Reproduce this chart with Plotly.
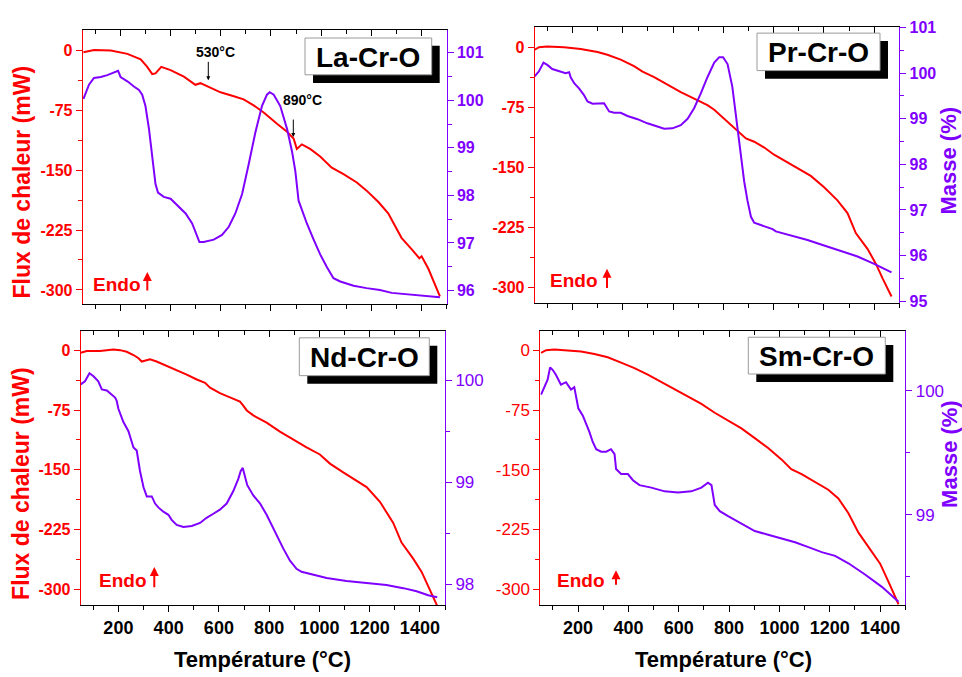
import plotly.graph_objects as go

W, H = 962, 677
RED = "#FF0000"
PUR = "#7F00FF"
FONT = "Arial, Liberation Sans, sans-serif"

# ---------------- data ----------------
la_T_dsc = [53, 95, 162, 228, 281, 307, 327, 340, 363, 400, 453, 499, 519, 546, 599, 652, 691, 731, 771, 824, 864, 890, 903, 923, 956, 996, 1042, 1089, 1142, 1181, 1228, 1267, 1320, 1360, 1391, 1400, 1427, 1473]
la_dsc = [-2.4, 0.4, -0.4, -4.5, -11.4, -20.8, -29.8, -29.0, -20.8, -24.9, -33.0, -43.2, -41.2, -45.2, -52.6, -57.5, -61.5, -68.9, -77.8, -92.0, -102.0, -110.5, -123.5, -117.8, -123.5, -132.9, -147.0, -155.0, -165.5, -175.7, -190.0, -204.0, -234.8, -249.0, -260.4, -258.0, -273.5, -308.0]
la_T_tg = [53, 75, 95, 122, 148, 181, 191, 201, 228, 254, 274, 287, 300, 314, 327, 340, 350, 373, 400, 426, 460, 486, 506, 515, 532, 572, 605, 632, 658, 685, 711, 738, 764, 784, 795, 811, 837, 864, 884, 897, 910, 923, 943, 970, 996, 1023, 1049, 1076, 1129, 1181, 1234, 1281, 1340, 1393, 1433, 1473]
la_tg = [100.03, 100.33, 100.47, 100.49, 100.53, 100.59, 100.62, 100.49, 100.40, 100.29, 100.22, 100.12, 99.88, 99.40, 98.78, 98.24, 98.06, 97.97, 97.93, 97.79, 97.62, 97.41, 97.14, 97.02, 97.02, 97.07, 97.17, 97.34, 97.62, 98.03, 98.65, 99.33, 99.88, 100.12, 100.17, 100.12, 99.88, 99.40, 98.92, 98.51, 97.89, 97.69, 97.41, 97.07, 96.76, 96.49, 96.26, 96.19, 96.10, 96.05, 96.01, 95.95, 95.92, 95.89, 95.87, 95.86]

pr_T_dsc = [50, 67, 100, 167, 233, 300, 339, 392, 445, 479, 525, 578, 631, 684, 737, 764, 790, 830, 863, 890, 923, 963, 1002, 1042, 1095, 1148, 1201, 1254, 1294, 1327, 1374, 1407, 1434, 1469]
pr_dsc = [-2.4, 0.8, 1.6, 0.8, -1.6, -5.3, -8.6, -14.7, -22.9, -29.8, -36.7, -46.1, -55.5, -63.7, -71.8, -77.6, -84.9, -97.1, -106.0, -113.5, -117.6, -124.9, -133.9, -141.2, -150.2, -160.4, -174.7, -191.0, -207.0, -232.0, -252.0, -270.6, -289.0, -311.4]
pr_T_tg = [50, 67, 85, 100, 120, 147, 173, 187, 193, 207, 227, 246, 260, 280, 300, 326, 346, 366, 392, 419, 459, 498, 538, 565, 598, 631, 658, 684, 711, 737, 764, 784, 799, 817, 836, 850, 863, 883, 896, 910, 923, 956, 996, 1009, 1069, 1135, 1201, 1268, 1334, 1400, 1469]
pr_tg = [99.93, 100.04, 100.23, 100.18, 100.09, 100.05, 100.00, 100.02, 99.91, 99.78, 99.66, 99.52, 99.38, 99.33, 99.33, 99.34, 99.16, 99.13, 99.13, 99.06, 98.99, 98.90, 98.83, 98.78, 98.79, 98.86, 99.00, 99.23, 99.56, 99.91, 100.23, 100.35, 100.35, 100.20, 99.70, 99.06, 98.42, 97.63, 97.21, 96.85, 96.72, 96.65, 96.58, 96.53, 96.44, 96.34, 96.22, 96.10, 95.98, 95.82, 95.63]

nd_T_dsc = [50, 74, 127, 154, 180, 207, 233, 260, 280, 293, 313, 326, 352, 392, 432, 472, 512, 545, 565, 604, 644, 684, 697, 711, 737, 790, 843, 896, 949, 1002, 1042, 1095, 1148, 1188, 1241, 1294, 1327, 1374, 1407, 1440, 1469]
nd_dsc = [-2.9, -0.8, -0.8, 0.4, 1.2, 0.4, -1.6, -5.7, -9.8, -13.9, -11.9, -11.1, -13.9, -19.3, -24.2, -30.3, -36.5, -40.6, -46.7, -53.7, -59.0, -64.3, -69.3, -75.4, -81.6, -90.6, -102.0, -112.3, -121.7, -130.7, -142.2, -153.3, -163.5, -171.7, -190.2, -216.8, -241.4, -261.9, -278.3, -300.8, -321.0]
nd_T_tg = [50, 67, 85, 101, 120, 134, 154, 173, 187, 193, 200, 220, 240, 260, 273, 286, 300, 313, 333, 346, 360, 379, 399, 412, 432, 459, 492, 525, 551, 578, 604, 631, 657, 677, 687, 695, 704, 713, 737, 764, 790, 823, 856, 883, 909, 929, 976, 1029, 1108, 1188, 1267, 1334, 1387, 1433, 1469]
nd_tg = [99.96, 99.99, 100.07, 100.04, 99.99, 99.91, 99.90, 99.86, 99.83, 99.80, 99.72, 99.59, 99.50, 99.34, 99.31, 99.11, 98.95, 98.86, 98.86, 98.79, 98.75, 98.71, 98.68, 98.63, 98.58, 98.56, 98.57, 98.60, 98.65, 98.69, 98.73, 98.79, 98.91, 99.03, 99.11, 99.14, 99.05, 98.97, 98.87, 98.79, 98.68, 98.51, 98.35, 98.23, 98.15, 98.12, 98.09, 98.06, 98.03, 98.01, 97.99, 97.96, 97.93, 97.89, 97.87]

sm_T_dsc = [53, 73, 106, 159, 212, 265, 318, 371, 424, 477, 531, 584, 637, 690, 743, 796, 849, 902, 955, 1008, 1047, 1088, 1141, 1194, 1234, 1274, 1314, 1360, 1400, 1433, 1473]
sm_dsc = [-2.9, 0.4, 1.2, 0.4, -1.2, -4.5, -8.6, -15.2, -22.1, -30.3, -39.8, -48.8, -57.8, -67.2, -78.3, -87.7, -98.0, -110.2, -122.5, -136.9, -149.2, -155.3, -165.6, -175.0, -186.0, -204.5, -229.0, -249.6, -268.0, -290.6, -319.0]
sm_T_tg = [53, 69, 79, 89, 99, 112, 132, 152, 172, 185, 192, 201, 219, 232, 245, 258, 272, 292, 312, 331, 345, 351, 371, 398, 418, 444, 491, 544, 597, 650, 690, 716, 730, 743, 763, 796, 849, 902, 955, 1008, 1062, 1115, 1168, 1221, 1274, 1340, 1407, 1473]
sm_tg = [99.97, 100.04, 100.09, 100.19, 100.17, 100.13, 100.05, 100.07, 100.01, 100.03, 99.95, 99.86, 99.80, 99.74, 99.67, 99.59, 99.53, 99.51, 99.51, 99.53, 99.49, 99.37, 99.33, 99.33, 99.28, 99.24, 99.22, 99.19, 99.18, 99.19, 99.22, 99.26, 99.24, 99.08, 99.03, 98.99, 98.93, 98.87, 98.84, 98.81, 98.78, 98.74, 98.70, 98.67, 98.61, 98.52, 98.42, 98.30]

samples = ["La-Cr-O", "Pr-Cr-O", "Nd-Cr-O", "Sm-Cr-O"]
dsc_ticks = [0, -75, -150, -225, -300]
dsc_ticktext = ["0", "-75", "-150", "-225", "-300"]
x_ticks = [200, 400, 600, 800, 1000, 1200, 1400]

# ---------------- geometry helpers ----------------
def px(x):
    return x / W

def py(y):
    return 1 - y / H

# plot rectangles (pixels): left, right, top, bottom
rects = [(82.7, 446.7, 22.0, 303.0), (534.7, 899.3, 19.5, 301.7),
         (80.7, 445.0, 330.7, 611.0), (540.3, 905.3, 330.7, 611.0)]
left_ranges = [[-318, 26], [-319.6, 26.0], [-320.5, 24], [-320.5, 24]]
right_ranges = [[95.71, 101.49], [94.96, 101.01], [97.79, 100.48], [98.27, 100.48]]
right_ticks = [[96, 97, 98, 99, 100, 101], [95, 96, 97, 98, 99, 100, 101], [98, 99, 100], [99, 100]]
right_minor = [[95.5, 96.5, 97.5, 98.5, 99.5, 100.5, 101.5], [95.5, 96.5, 97.5, 98.5, 99.5, 100.5],
               [98.5, 99.5], [98.5, 99.5]]
left_bold = [True, True, True, False]
right_bold = [True, True, False, False]

data = [(la_T_dsc, la_dsc, la_T_tg, la_tg), (pr_T_dsc, pr_dsc, pr_T_tg, pr_tg),
        (nd_T_dsc, nd_dsc, nd_T_tg, nd_tg), (sm_T_dsc, sm_dsc, sm_T_tg, sm_tg)]

fig = go.Figure()
layout = dict(width=W, height=H, margin=dict(l=0, r=0, t=0, b=0),
              paper_bgcolor="white", plot_bgcolor="white", showlegend=False,
              font=dict(family=FONT))
shapes = []
annotations = []

for i in range(4):
    n = i + 1
    xa = "x" if n == 1 else f"x{n}"
    ya = "y" if n == 1 else f"y{n}"
    ya2 = f"y{n + 4}"
    xa2 = f"x{n + 4}"
    l, r, t, b = rects[i]
    Td, d, Tt, m = data[i]
    fig.add_trace(go.Scatter(x=Tt, y=m, xaxis=xa, yaxis=ya2, mode="lines",
                             line=dict(color=PUR, width=2), hoverinfo="skip"))
    fig.add_trace(go.Scatter(x=Td, y=d, xaxis=xa, yaxis=ya, mode="lines",
                             line=dict(color=RED, width=2), hoverinfo="skip"))
    # empty trace registering the top tick axis
    fig.add_trace(go.Scatter(x=[], y=[], xaxis=xa2, yaxis=ya, mode="lines", hoverinfo="skip"))

    bottom = i >= 2
    layout[f"xaxis{n}"] = dict(
        domain=[px(l), px(r)], anchor=ya, range=[50, 1500],
        tickmode="array", tickvals=x_ticks, ticks="outside", ticklen=6, tickwidth=1,
        tickcolor="black", showticklabels=bottom,
        tickfont=dict(size=18, color="black", family=FONT, weight="bold"),
        minor=dict(tickvals=[100, 300, 500, 700, 900, 1100, 1300, 1500], ticks="outside",
                   ticklen=4, tickcolor="black"),
        showline=True, linecolor="black", linewidth=1, mirror=False,
        showgrid=False, zeroline=False, fixedrange=True)
    layout[f"xaxis{n + 4}"] = dict(
        overlaying=xa, anchor=ya, side="top", range=[50, 1500],
        tickmode="array", tickvals=x_ticks, ticks="inside", ticklen=6, tickwidth=1,
        tickcolor="black", showticklabels=False,
        minor=dict(tickvals=[100, 300, 500, 700, 900, 1100, 1300, 1500], ticks="inside",
                   ticklen=4, tickcolor="black"),
        showline=True, linecolor="black", linewidth=1,
        showgrid=False, zeroline=False, fixedrange=True)
    layout[f"yaxis{n}"] = dict(
        domain=[py(b), py(t)], anchor=xa, range=left_ranges[i],
        tickmode="array", tickvals=dsc_ticks, ticktext=dsc_ticktext,
        ticks="outside", ticklen=6, tickcolor=RED,
        tickfont=dict(size=16 if left_bold[i] else 17, color=RED, family=FONT,
                      weight="bold" if left_bold[i] else "normal"),
        minor=dict(tickvals=[-37.5, -112.5, -187.5, -262.5], ticks="outside", ticklen=4, tickcolor=RED),
        showline=True, linecolor=RED, linewidth=1,
        showgrid=False, zeroline=False, fixedrange=True)
    layout[f"yaxis{n + 4}"] = dict(
        overlaying=ya, anchor=xa, side="right", range=right_ranges[i],
        tickmode="array", tickvals=right_ticks[i],
        ticks="outside", ticklen=6, tickcolor=PUR,
        tickfont=dict(size=16 if right_bold[i] else 17, color=PUR, family=FONT,
                      weight="bold" if right_bold[i] else "normal"),
        minor=dict(tickvals=right_minor[i], ticks="outside", ticklen=4, tickcolor=PUR),
        showline=True, linecolor=PUR, linewidth=1,
        showgrid=False, zeroline=False, fixedrange=True)

# sample label boxes: (box l, t, r, b)
boxes = [(305, 30.7, 431.7, 68.3), (757, 25.7, 880, 64), (299.3, 337.3, 429.3, 376), (748.3, 336.7, 885.3, 374.3)]
for (bl, bt, br, bb), name in zip(boxes, samples):
    shapes.append(dict(type="rect", xref="paper", yref="paper", layer="above",
                       x0=px(bl + 8), x1=px(br + 8), y0=py(bb + 8.3), y1=py(bt + 8),
                       fillcolor="black", line=dict(width=0)))
    shapes.append(dict(type="rect", xref="paper", yref="paper", layer="above",
                       x0=px(bl), x1=px(br), y0=py(bb), y1=py(bt),
                       fillcolor="white", line=dict(color="#9a9a9a", width=1)))
    annotations.append(dict(text=name, xref="paper", yref="paper",
                            x=px((bl + br) / 2), y=py((bt + bb) / 2 + 1),
                            showarrow=False, xanchor="center", yanchor="middle",
                            font=dict(size=28, color="black", family=FONT, weight="bold")))

# Endo labels and arrows: (text center x, y, arrow x, head y, tail y)
endos = [(117, 282.7, 147.3, 270, 290), (573.5, 278.3, 607, 266.7, 287.3),
         (123.3, 585, 154.3, 571.7, 593.3), (580.7, 585, 616, 575, 591)]
for tx, ty, ax_, hy, tyl in endos:
    annotations.append(dict(text="Endo", xref="paper", yref="paper", x=px(tx), y=py(ty),
                            showarrow=False, xanchor="center", yanchor="middle",
                            font=dict(size=19, color=RED, family=FONT, weight="bold")))
    annotations.append(dict(text="", xref="paper", yref="paper", x=px(ax_), y=py(hy),
                            showarrow=True, ax=0, ay=tyl - hy, arrowhead=2, arrowsize=0.9,
                            arrowwidth=2, arrowcolor=RED))

# temperature markers in La panel
for label, tx, ty, ax_, y0, y1 in [("530°C", 215, 45, 208.3, 54, 74), ("890°C", 302, 94, 293.3, 113, 132)]:
    annotations.append(dict(text=label, xref="paper", yref="paper", x=px(tx), y=py(ty),
                            showarrow=False, xanchor="center", yanchor="middle",
                            font=dict(size=14, color="black", family=FONT, weight="bold")))
    annotations.append(dict(text="", xref="paper", yref="paper", x=px(ax_), y=py(y1),
                            showarrow=True, ax=0, ay=-(y1 - y0), arrowhead=2, arrowsize=0.8,
                            arrowwidth=1, arrowcolor="black"))

# axis titles
for x_, y_ in [(22, 178.5), (21, 486.7)]:
    annotations.append(dict(text="Flux de chaleur (mW)", xref="paper", yref="paper", x=px(x_), y=py(y_),
                            showarrow=False, textangle=-90, xanchor="center", yanchor="middle",
                            font=dict(size=23, color=RED, family=FONT, weight="bold")))
for x_, y_ in [(949, 156), (950, 456)]:
    annotations.append(dict(text="Masse (%)", xref="paper", yref="paper", x=px(x_), y=py(y_),
                            showarrow=False, textangle=-90, xanchor="center", yanchor="middle",
                            borderpad=0,
                            font=dict(size=22, color=PUR, family=FONT, weight="bold")))
for x_, y_ in [(262.3, 666), (723.5, 666)]:
    annotations.append(dict(text="Température (°C)", xref="paper", yref="paper", x=px(x_), y=py(y_),
                            showarrow=False, xanchor="center", yanchor="middle", borderpad=0,
                            font=dict(size=22, color="black", family=FONT, weight="bold")))

layout["shapes"] = shapes
layout["annotations"] = annotations
fig.update_layout(**layout)
fig.write_html("out.html", config={"displayModeBar": False},
               post_script="document.body.style.margin='0';document.body.style.overflow='hidden';")
